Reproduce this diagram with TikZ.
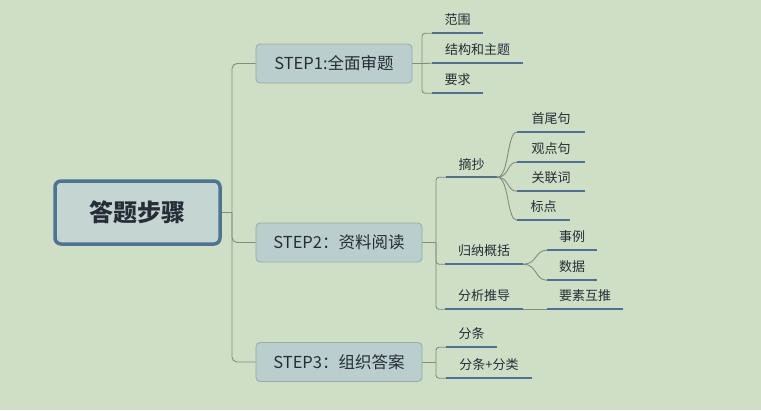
\documentclass[tikz,border=0pt]{standalone}
\usepackage{fontspec}
\setmainfont{Noto Sans CJK SC}
\definecolor{bg}{RGB}{206,223,198}
\definecolor{rootfill}{RGB}{196,213,210}
\definecolor{rootdraw}{RGB}{77,116,145}
\definecolor{stepfill}{RGB}{186,207,205}
\definecolor{stepdraw}{RGB}{150,170,168}
\definecolor{txt}{RGB}{38,45,55}
\definecolor{uline}{RGB}{80,110,150}
\definecolor{conn}{RGB}{130,140,128}
\begin{document}
\begin{tikzpicture}[x=1pt,y=-1pt,
  rootbox/.style={draw=rootdraw, line width=3.5pt, fill=rootfill, rounded corners=6pt,
    minimum width=165pt, minimum height=63pt, inner sep=0pt,
    text=txt, font=\fontsize{24}{24}\selectfont\bfseries},
  stepbox/.style={draw=stepdraw, line width=0.8pt, fill=stepfill, rounded corners=4pt,
    minimum height=39pt, inner sep=0pt, text=txt, font=\fontsize{16.5}{17}\selectfont},
  leaf/.style={minimum width=#1, minimum height=26pt, inner sep=0pt, text=txt,
    font=\fontsize{13}{13}\selectfont},
  ul/.style={draw=uline, line width=2pt},
  conn/.style={draw=conn, line width=0.9pt}
]
\fill[bg] (0,0) rectangle (761,410);
\useasboundingbox (0,0) rectangle (761,410);

% root and steps
\node[rootbox] (root) at (137.5,212.5) {答题步骤};
\node[stepbox, minimum width=156pt] (s1) at (334,63.5) {STEP1:全面审题};
\node[stepbox, minimum width=166pt] (s2) at (339,242.5) {STEP2：资料阅读};
\node[stepbox, minimum width=166pt] (s3) at (339,362) {STEP3：组织答案};

% leaves (south edge = underline)
\node[leaf=51pt] (l11) at (457.5,20) {范围};
\node[leaf=91pt] (l12) at (477.5,50) {结构和主题};
\node[leaf=51pt] (l13) at (457.5,80) {要求};

\node[leaf=51pt] (l21) at (471.5,164) {摘抄};
\node[leaf=68pt] (l211) at (551,119) {首尾句};
\node[leaf=68pt] (l212) at (551,149) {观点句};
\node[leaf=68pt] (l213) at (551,178) {关联词};
\node[leaf=53pt] (l214) at (543.5,207) {标点};

\node[leaf=78pt] (l22) at (484,251) {归纳概括};
\node[leaf=50pt] (l221) at (572,237) {事例};
\node[leaf=50pt] (l222) at (572,267) {数据};

\node[leaf=78pt] (l23) at (484,296) {分析推导};
\node[leaf=76pt] (l231) at (585,296) {要素互推};

\node[leaf=51pt] (l31) at (471.5,334) {分条};
\node[leaf=86pt] (l32) at (489,365) {分条+分类};

% underlines
\foreach \n in {l11,l12,l13,l21,l211,l212,l213,l214,l22,l221,l222,l23,l231,l31,l32}
  \draw[ul] (\n.south west) -- (\n.south east);

% coordinates for branch points
\coordinate (rt) at (232,212.5);
\coordinate (b1) at (422,63.5);
\coordinate (b2) at (436,242.5);
\coordinate (b3) at (436,362);

% root trunk
\draw[conn] (root.east) -- (rt);
\draw[conn, rounded corners=5pt] (rt) |- (s1.west);
\draw[conn, rounded corners=5pt] (rt) |- (s2.west);
\draw[conn, rounded corners=5pt] (rt) |- (s3.west);

% step1 bracket
\draw[conn] (s1.east) -- (b1);
\draw[conn, rounded corners=3pt] (b1) |- (l11.south west);
\draw[conn] (b1) -- (l12.south west);
\draw[conn, rounded corners=3pt] (b1) |- (l13.south west);

% step2 bracket
\draw[conn] (s2.east) -- (b2);
\draw[conn, rounded corners=3pt] (b2) |- (l21.south west);
\draw[conn, rounded corners=3pt] (b2) |- (l22.south west);
\draw[conn, rounded corners=3pt] (b2) |- (l23.south west);

% 摘抄 children (curved)
\foreach \c in {l211,l212,l213,l214}
  \draw[conn] (l21.south east) .. controls +(12,0) and ([xshift=-10pt]\c.south west) .. (\c.south west);
% 归纳概括 children
\foreach \c in {l221,l222}
  \draw[conn] (l22.south east) .. controls +(14,0) and ([xshift=-12pt]\c.south west) .. (\c.south west);
% 分析推导 child
\draw[conn] (l23.south east) -- (l231.south west);

% step3 bracket
\draw[conn] (s3.east) -- (b3);
\draw[conn, rounded corners=3pt] (b3) |- (l31.south west);
\draw[conn, rounded corners=3pt] (b3) |- (l32.south west);
\end{tikzpicture}
\end{document}
